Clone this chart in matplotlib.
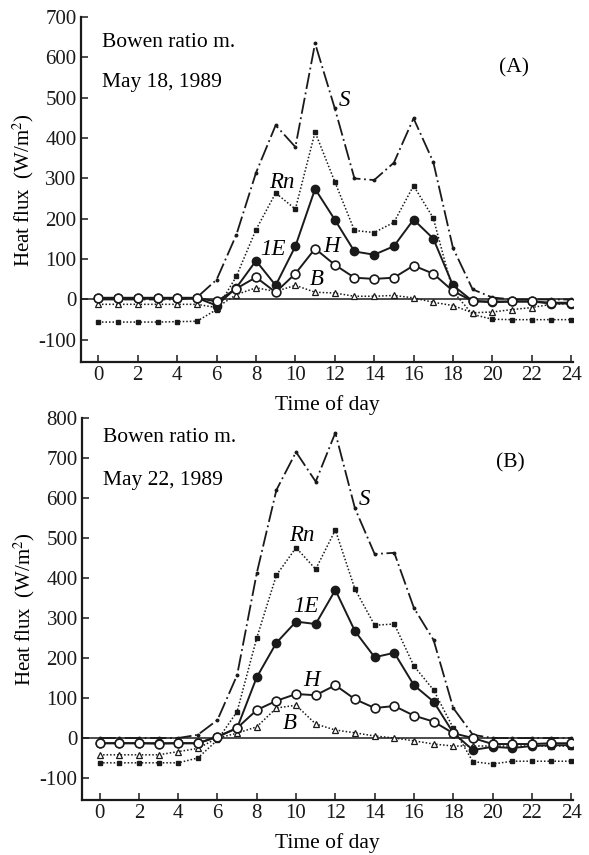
import matplotlib
matplotlib.use("Agg")
import matplotlib.pyplot as plt
import numpy as np

hours = list(range(25))

# Panel A: May 18, 1989
A_S  = [0, 0, 0, 0, 0, 5, 49, 160, 314, 432, 378, 635, 474, 300, 296, 339, 449, 341, 128, 25, 5, 0, 0, 0, 0]
A_Rn = [-56, -56, -56, -56, -55, -54, -25, 57, 173, 264, 224, 415, 292, 171, 166, 191, 282, 202, 20, -37, -49, -50, -50, -50, -50]
A_E  = [4, 4, 4, 4, 4, 4, -15, 29, 96, 35, 132, 274, 198, 119, 111, 132, 198, 151, 35, -4, -7, -5, -5, -10, -10]
A_H  = [4, 4, 4, 4, 4, 4, -5, 27, 55, 18, 64, 126, 86, 54, 51, 54, 84, 64, 21, -4, -5, -5, -5, -8, -8]
A_B  = [-12, -12, -12, -12, -12, -12, -20, 12, 29, 20, 35, 18, 16, 8, 8, 10, 4, -7, -15, -33, -31, -25, -20, -12, -10]

# Panel B: May 22, 1989
B_S  = [0, 0, 0, 0, 0, 8, 45, 157, 412, 620, 715, 641, 763, 574, 460, 463, 325, 245, 75, 8, 0, 0, 0, 0, 0]
B_Rn = [-62, -62, -62, -62, -62, -50, -5, 66, 250, 407, 476, 422, 520, 372, 282, 285, 180, 120, 25, -59, -65, -58, -58, -58, -58]
B_E  = [-13, -13, -13, -13, -13, -13, 3, 25, 152, 238, 291, 285, 370, 267, 202, 213, 132, 91, 13, -30, -22, -25, -20, -18, -18]
B_H  = [-13, -13, -13, -14, -13, -13, 3, 25, 70, 93, 110, 107, 132, 97, 75, 80, 56, 41, 12, 0, -15, -15, -15, -13, -13]
B_B  = [-42, -42, -42, -42, -34, -26, 0, 12, 28, 75, 82, 35, 20, 13, 5, 0, -7, -15, -20, -20, -20, -20, -20, -20, -20]

xticks = list(range(0, 25, 2))
A_yticks = list(range(-100, 701, 100))
B_yticks = list(range(-100, 801, 100))

plt.rcParams['font.family'] = ['Liberation Serif', 'DejaVu Serif']
plt.rcParams['mathtext.fontset'] = 'stix'
plt.rcParams['axes.unicode_minus'] = False

fig = plt.figure(figsize=(5.89, 8.55), dpi=100)
axA = fig.add_axes([0.137, 0.5766, 0.836, 0.4034])
axB = fig.add_axes([0.139, 0.0643, 0.834, 0.4468])

k = '#1a1a1a'

def draw(ax, S, Rn, E, H, B, ymax, yticks):
    ax.axhline(0, color=k, lw=1.1, zorder=1)
    ax.plot(hours, S, color=k, lw=1.3, linestyle=(0, (9, 2, 1, 2)), zorder=2)
    ax.plot(hours, S, color=k, lw=0, marker='o', ms=1.8, zorder=2)
    ax.plot(hours, Rn, color=k, lw=1.1, linestyle=(0, (1, 1.3)), marker='s', ms=2.8, zorder=3)
    ax.plot(hours, B, color=k, lw=1.1, linestyle=(0, (1, 1.3)), marker='^', ms=3.8,
            markerfacecolor='white', markeredgewidth=0.9, zorder=3)
    ax.plot(hours, E, color=k, lw=1.4, marker='o', ms=6, markerfacecolor=k, zorder=4)
    ax.plot(hours, H, color=k, lw=1.4, marker='o', ms=6.3, markerfacecolor='white',
            markeredgewidth=1.2, zorder=5)
    ax.set_xlim(-0.9, 24.1)
    ax.set_ylim(-155, ymax)
    ax.set_xticks(xticks)
    ax.set_yticks(yticks)
    for s in ['top', 'right']:
        ax.spines[s].set_visible(False)
    for s in ['left', 'bottom']:
        ax.spines[s].set_linewidth(1.6)
        ax.spines[s].set_color(k)
    ax.tick_params(direction='in', length=5, width=1.1, labelsize=15, colors=k, pad=3)
    ax.set_xlabel('Time of day', fontsize=15.5, labelpad=7)
    ax.set_ylabel('Heat flux  (W/m$^2$)', fontsize=15, labelpad=2)

draw(axA, A_S, A_Rn, A_E, A_H, A_B, 700, A_yticks)
draw(axB, B_S, B_Rn, B_E, B_H, B_B, 800, B_yticks)

fs = 15.5
axA.text(0.2, 637, 'Bowen ratio m.', fontsize=fs, va='center', ha='left')
axA.text(0.2, 538, 'May 18, 1989', fontsize=fs, va='center', ha='left')
axA.text(21.1, 573, '(A)', fontsize=fs, va='center', ha='center')
axA.text(12.5, 494, 'S', fontsize=fs+1, style='italic', va='center', ha='center')
axA.text(9.3, 291, 'Rn', fontsize=fs+1, style='italic', va='center', ha='center')
axA.text(8.86, 124, '1E', fontsize=fs+1, style='italic', va='center', ha='center')
axA.text(11.85, 131, 'H', fontsize=fs+1, style='italic', va='center', ha='center')
axA.text(11.1, 49, 'B', fontsize=fs+1, style='italic', va='center', ha='center')

axB.text(0.15, 752, 'Bowen ratio m.', fontsize=fs, va='center', ha='left')
axB.text(0.15, 645, 'May 22, 1989', fontsize=fs, va='center', ha='left')
axB.text(20.9, 687, '(B)', fontsize=fs, va='center', ha='center')
axB.text(13.5, 597, 'S', fontsize=fs+1, style='italic', va='center', ha='center')
axB.text(10.3, 507, 'Rn', fontsize=fs+1, style='italic', va='center', ha='center')
axB.text(10.5, 328, '1E', fontsize=fs+1, style='italic', va='center', ha='center')
axB.text(10.8, 145, 'H', fontsize=fs+1, style='italic', va='center', ha='center')
axB.text(9.7, 37, 'B', fontsize=fs+1, style='italic', va='center', ha='center')

fig.savefig('out.png', dpi=100)
